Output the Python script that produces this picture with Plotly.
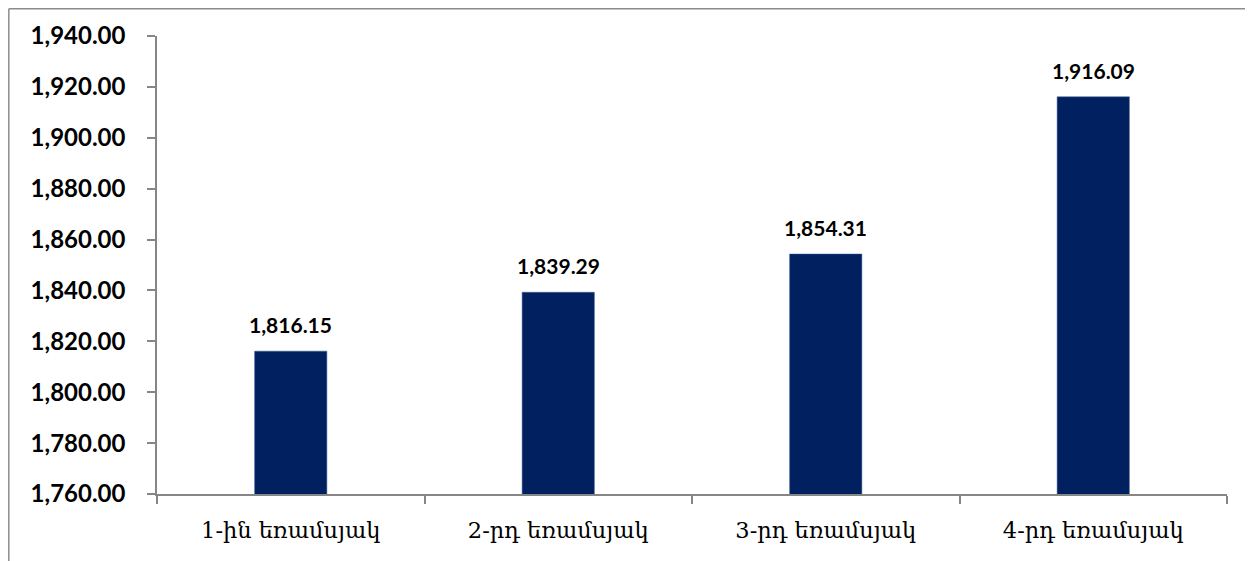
import plotly.graph_objects as go

categories = ["1-ին եռամսյակ", "2-րդ եռամսյակ", "3-րդ եռամսյակ", "4-րդ եռամսյակ"]
values = [1816.15, 1839.29, 1854.31, 1916.09]
y_ticks = [1760, 1780, 1800, 1820, 1840, 1860, 1880, 1900, 1920, 1940]

fig = go.Figure()
fig.add_trace(go.Bar(
    x=categories, y=values, width=0.27,
    marker=dict(color="#002060", line=dict(color="#3a5a90", width=0.5)),
    hoverinfo="skip",
))

for c, v in zip(categories, values):
    fig.add_annotation(
        x=c, y=v, text=f"{v:,.2f}", showarrow=False,
        yanchor="bottom", yshift=12,
        font=dict(family="Lato", size=21, color="#000000", weight="bold"),
    )

# outer chart frame (top and left edges visible)
fig.add_shape(type="line", xref="paper", yref="paper",
              x0=-0.1385, x1=1.05, y0=1.0595, y1=1.0595,
              line=dict(color="#8c8c8c", width=1.5))
fig.add_shape(type="line", xref="paper", yref="paper",
              x0=-0.1385, x1=-0.1385, y0=1.0595, y1=-0.2,
              line=dict(color="#8c8c8c", width=1.5))

fig.update_layout(
    width=1253, height=561,
    margin=dict(l=149, r=34, t=28, b=75, autoexpand=False),
    paper_bgcolor="white", plot_bgcolor="white",
    showlegend=False,
    xaxis=dict(
        type="category", tickson="boundaries", automargin=False,
        showline=True, linecolor="#868686", linewidth=1.5,
        ticks="outside", ticklen=8, tickcolor="#868686", tickwidth=1.5,
        ticklabelstandoff=15,
        tickfont=dict(family="DejaVu Serif", size=22.5, color="#000000"),
        showgrid=False,
    ),
    yaxis=dict(
        range=[1760, 1940], tickvals=y_ticks, tickformat=",.2f",
        automargin=False,
        showline=True, linecolor="#868686", linewidth=1.5,
        ticks="outside", ticklen=8, tickcolor="#868686", tickwidth=1.5,
        ticklabelstandoff=17,
        tickfont=dict(family="Lato", size=24, color="#000000", weight="bold"),
        showgrid=False, zeroline=False,
    ),
)

fig.write_html("out.html")
